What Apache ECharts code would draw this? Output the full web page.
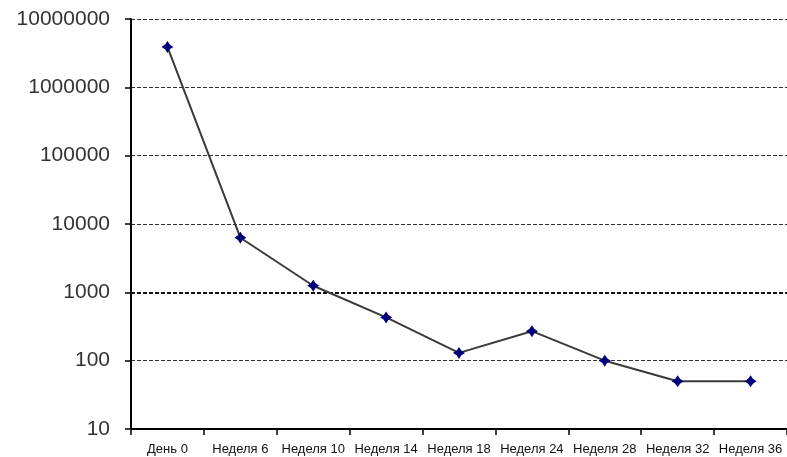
<!DOCTYPE html>
<html>
<head>
<meta charset="utf-8">
<script src="https://cdn.jsdelivr.net/npm/echarts@6/dist/echarts.min.js"></script>
<style>
  html, body { margin: 0; padding: 0; background: #fff; }
  #chart { width: 787px; height: 457px; }
</style>
</head>
<body>
<div id="chart"></div>
<script>
// Time points of the observation
const categories = ['День 0', 'Неделя 6', 'Неделя 10', 'Неделя 14', 'Неделя 18',
                    'Неделя 24', 'Неделя 28', 'Неделя 32', 'Неделя 36'];
// Measured values (log scale)
const values = [3900000, 6300, 1250, 430, 130, 270, 100, 50, 50];
// Logarithmic axis range
const yMin = 10;
const yMax = 10000000;
// Reference level drawn with a heavier dashed line
const referenceLevel = 1000;

const chart = echarts.init(document.getElementById('chart'));

// Four-pointed star marker with a fat centre
const starPath = 'path://M0,-6 L2.4,-2.4 L6,0 L2.4,2.4 L0,6 L-2.4,2.4 L-6,0 L-2.4,-2.4 Z';

chart.setOption({
  animation: false,
  backgroundColor: '#ffffff',
  grid: { left: 131, right: -3, top: 19, bottom: 28, containLabel: false },
  xAxis: {
    type: 'category',
    data: categories,
    boundaryGap: true,
    axisLine: { show: true, lineStyle: { color: '#000', width: 2 } },
    axisTick: { show: true, length: 6, inside: false, lineStyle: { color: '#000', width: 1.5 } },
    axisLabel: {
      color: '#111',
      fontFamily: 'Liberation Sans, Arial, sans-serif',
      fontSize: 13,
      margin: 14,
      interval: 0
    },
    splitLine: { show: false }
  },
  yAxis: {
    type: 'log',
    logBase: 10,
    min: yMin,
    max: yMax,
    axisLine: { show: true, lineStyle: { color: '#000', width: 2 } },
    axisTick: { show: true, length: 6, lineStyle: { color: '#000', width: 1.5 } },
    axisLabel: {
      color: '#333',
      fontFamily: 'Liberation Sans, Arial, sans-serif',
      fontSize: 21,
      margin: 21,
      formatter: v => String(Math.round(v))
    },
    splitLine: {
      show: true,
      lineStyle: { color: '#333', width: 1, type: [4, 2] }
    },
    minorTick: { show: false },
    minorSplitLine: { show: false }
  },
  series: [{
    type: 'line',
    data: values,
    symbol: starPath,
    symbolSize: 12,
    showAllSymbol: true,
    itemStyle: { color: '#00007a' },
    lineStyle: { color: '#3a3a3a', width: 2 },
    z: 5,
    markLine: {
      silent: true,
      symbol: 'none',
      label: { show: false },
      lineStyle: { color: '#111', width: 2.2, type: [4, 2] },
      data: [{ yAxis: referenceLevel }],
      z: 1
    }
  }]
});
</script>
</body>
</html>
